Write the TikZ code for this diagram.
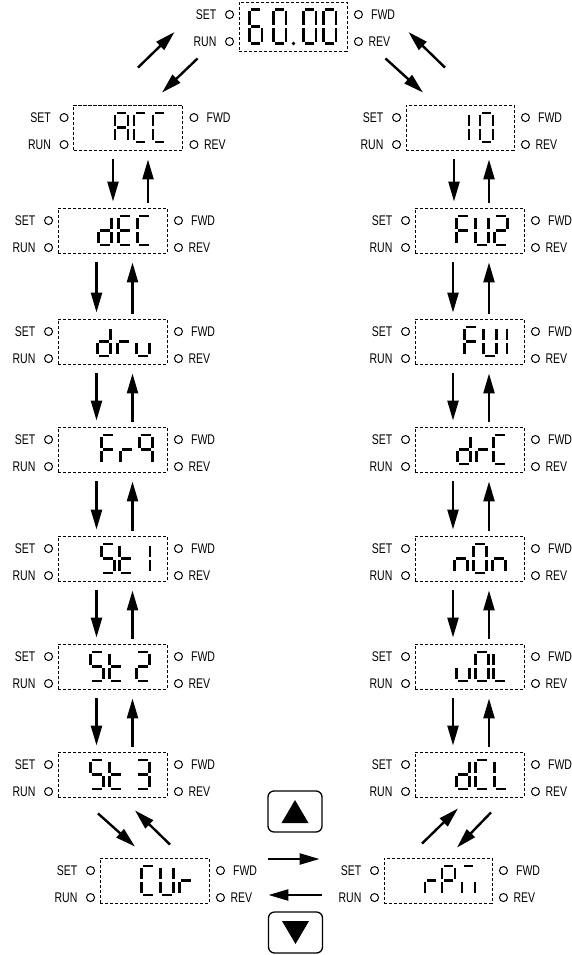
\documentclass[tikz,border=0pt]{standalone}
\usepackage{fontspec}
\usetikzlibrary{calc,arrows.meta}
\newfontfamily\lblfont[FakeStretch=0.75]{Liberation Sans}

% seven segment glyphs, sizes in pt (y runs downwards in the picture)
\def\gw{13}\def\gh{29}\def\sgap{1.8}
\newcommand\sgmA{\draw[segline] (\sgap,0) -- (\gw-\sgap,0);}
\newcommand\sgmB{\draw[segline] (\gw,\sgap) -- (\gw,\gh/2-\sgap);}
\newcommand\sgmC{\draw[segline] (\gw,\gh/2+\sgap) -- (\gw,\gh-\sgap);}
\newcommand\sgmD{\draw[segline] (\sgap,\gh) -- (\gw-\sgap,\gh);}
\newcommand\sgmE{\draw[segline] (0,\gh/2+\sgap) -- (0,\gh-\sgap);}
\newcommand\sgmF{\draw[segline] (0,\sgap) -- (0,\gh/2-\sgap);}
\newcommand\sgmG{\draw[segline] (\sgap,\gh/2) -- (\gw-\sgap,\gh/2);}
\newcommand\sgmP{\fill (0,\gh) circle (1.9);}

\newcommand\defglyph[2]{\expandafter\def\csname gl@#1\endcsname{#2}}
\defglyph{0}{A,B,C,D,E,F}
\defglyph{1}{B,C}
\defglyph{2}{A,B,D,E,G}
\defglyph{3}{A,B,C,D,G}
\defglyph{6}{A,C,D,E,F,G}
\defglyph{A}{A,B,C,E,F,G}
\defglyph{C}{A,D,E,F}
\defglyph{d}{B,C,D,E,G}
\defglyph{E}{A,D,E,F,G}
\defglyph{F}{A,E,F,G}
\defglyph{L}{D,E,F}
\defglyph{M}{A,C,E}
\defglyph{n}{C,E,G}
\defglyph{P}{A,B,E,F,G}
\defglyph{q}{A,B,C,F,G}
\defglyph{r}{E,G}
\defglyph{S}{A,C,D,F,G}
\defglyph{t}{D,E,F,G}
\defglyph{U}{B,C,D,E,F}
\defglyph{u}{C,D,E}
\defglyph{.}{P}

% digits of one display: dx from the centre / glyph
\newcommand\glyphs[2]{%
  \foreach \dx/\ch in {#2}{%
    \begin{scope}[shift={($(#1.center)+(\dx,-\gh/2)$)}]
      \expandafter\let\expandafter\seglist\csname gl@\ch\endcsname
      \foreach \s in \seglist {\csname sgm\s\endcsname}
    \end{scope}}}

% display box with its four lamps
\newcommand\panel[3][]{%
  \node[lcd,#1] (#2) at (#3) {};
  \node[led] (#2-s) at ($(#2.north west)+(-9,13)$) {};
  \node[led] (#2-r) at ($(#2.north west)+(-9,40)$) {};
  \node[led] (#2-f) at ($(#2.north east)+(11,13)$) {};
  \node[led] (#2-v) at ($(#2.north east)+(11,40)$) {};
  \node[lbl,anchor=east] (#2-set) at ($(#2-s)+(-13,0)$) {SET};
  \node[lbl,anchor=east] (#2-run) at ($(#2-r)+(-13,0)$) {RUN};
  \node[lbl,anchor=west] (#2-fwd) at ($(#2-f)+(12.5,0)$) {FWD};
  \node[lbl,anchor=west] (#2-rev) at ($(#2-v)+(10,0)$) {REV};}

\begin{document}
\begin{tikzpicture}[x=1pt,y=-1pt,
  lcd/.style={draw,dash pattern=on 3.2pt off 1.8pt,line width=0.9pt,minimum width=109pt,minimum height=45pt,inner sep=0pt},
  lbl/.style={font=\lblfont\fontsize{14pt}{16pt}\selectfont,inner sep=0pt},
  led/.style={draw,circle,line width=1pt,minimum size=8pt,inner sep=0pt},
  segline/.style={line width=2.9pt},
  arr/.style={line width=2.4pt,-{Triangle[length=20pt,width=11pt]}},
  dnarr/.style={arr,shorten <=9pt,shorten >=6pt},
  uparr/.style={arr,shorten <=5pt,shorten >=9pt},
  btn/.style={draw,rounded corners=6pt,line width=1.3pt,minimum width=54pt,minimum height=41pt}]
\useasboundingbox (0,0) rectangle (572,955);

%% displays
\panel[minimum width=108pt,minimum height=49pt]{top}{293,26.5}
\def\gw{12.5}\def\gh{34}
\glyphs{top}{-43.5/6,-19.5/0,0.5/.,10.5/0,30.5/0}
\def\gw{13}\def\gh{29}

\panel{acc}{128,127.5}   \glyphs{acc}{-13/A,6/C,25/C}
\panel{dec}{112.5,230.5} \glyphs{dec}{-14/d,6/E,25/C}
\panel{drv}{112.5,341.5} \glyphs{drv}{-15/d,5/r,24/u}
\panel{frq}{112.5,449.5} \glyphs{frq}{-11/F,8/r,27/q}
\panel{st1}{112.5,558.5} \glyphs{st1}{-11/S,7/t,24.5/1}
\panel{st2}{112.5,666.5} \glyphs{st2}{-22/S,-3/t,24/2}
\panel{st3}{112.5,774.5} \glyphs{st3}{-22/S,-3/t,24/3}

\panel[minimum width=108pt]{io}{460,127.5} \glyphs{io}{-4/1,20/0}
\panel{fu2}{469.5,230.5} \glyphs{fu2}{-13/F,6/U,25/2}
\panel{fu1}{469.5,341.5} \glyphs{fu1}{-5/F,14/U,24.5/1}
\panel{drc}{469.5,449.5} \glyphs{drc}{-12/d,7/r,24/C}
\panel{non}{469.5,558.5} \glyphs{non}{-15/n,4/0,23/n}
\panel{vol}{469.5,666.5} \glyphs{vol}{-13/u,6/0,24/L}
\panel{dcl}{469.5,774.5} \glyphs{dcl}{-13/d,6/C,25/L}

\panel{cur}{154.5,880.5} \glyphs{cur}{-13/C,6/U,25/r}
\panel[minimum width=108pt]{rpm}{438,880.5} \glyphs{rpm}{-13/r,4/P,24/M}

%% keys
\node[btn] (upbtn) at (295,811.5) {};
\fill ($(upbtn)+(0,-11.5)$) -- ($(upbtn)+(13.5,11.5)$) -- ($(upbtn)+(-13.5,11.5)$) -- cycle;
\node[btn] (dnbtn) at (295.5,932.5) {};
\fill ($(dnbtn)+(0,11.5)$) -- ($(dnbtn)+(13.5,-11.5)$) -- ($(dnbtn)+(-13.5,-11.5)$) -- cycle;

%% vertical arrows
\draw[dnarr] ([xshift=-15pt]acc.south) -- ([xshift=0.5pt]dec.north);
\draw[uparr] ([xshift=35.5pt]dec.north) -- ([xshift=20pt]acc.south);
\foreach \a/\b in {dec/drv,drv/frq,frq/st1,st1/st2,st2/st3}{
  \draw[dnarr] ([xshift=-16pt]\a.south) -- ([xshift=-16pt]\b.north);
  \draw[uparr] ([xshift=20pt]\b.north) -- ([xshift=20pt]\a.south);
}
\draw[dnarr] ([xshift=-6pt]io.south) -- ([xshift=-15.5pt]fu2.north);
\draw[uparr] ([xshift=19.5pt]fu2.north) -- ([xshift=29pt]io.south);
\foreach \a/\b in {fu2/fu1,fu1/drc,drc/non,non/vol,vol/dcl}{
  \draw[dnarr] ([xshift=-16.5pt]\a.south) -- ([xshift=-16.5pt]\b.north);
  \draw[uparr] ([xshift=19.5pt]\b.north) -- ([xshift=19.5pt]\a.south);
}

%% diagonal arrows
\draw[arr] ($(acc.north)+(10,-37)$) -- ($(top.west)+(-64,5.5)$);
\draw[arr] ($(top.south west)+(-41,7)$) -- ($(acc.north)+(34,-12)$);
\draw[arr] ($(top.south east)+(38,7)$) -- ($(io.north)+(-37,-12)$);
\draw[arr] ($(io.north)+(-15,-37)$) -- ($(top.east)+(61,5.5)$);
\draw[arr] ($(st3.south)+(-14.5,16)$) -- ($(cur.north)+(-19.5,-11)$);
\draw[arr] ($(cur.north)+(15.5,-13)$) -- ($(st3.south)+(22.5,13)$);
\draw[arr] ($(rpm.north)+(-16,-14)$) -- ($(dcl.south)+(-11.5,11)$);
\draw[arr] ($(dcl.south)+(21.5,15)$) -- ($(rpm.north)+(19,-10)$);

%% horizontal arrows
\draw[arr] ($(cur.east)+(59,-21.5)$) -- ($(rpm.west)+(-64,-21.5)$);
\draw[arr] ($(rpm.west)+(-62,14.5)$) -- ($(cur.east)+(59,14.5)$);
\end{tikzpicture}
\end{document}
